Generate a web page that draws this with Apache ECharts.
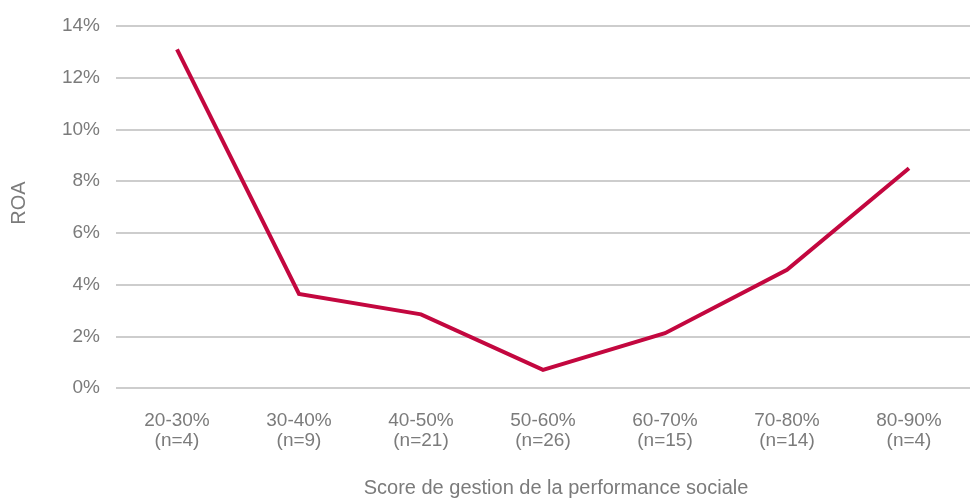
<!DOCTYPE html>
<html>
<head>
<meta charset="utf-8">
<script src="https://cdn.jsdelivr.net/npm/echarts@6/dist/echarts.min.js"></script>
<style>
  html, body { margin: 0; padding: 0; background: #ffffff; }
  #chart { width: 972px; height: 499px; }
</style>
</head>
<body>
<div id="chart"></div>
<script>
// Score bands (with sample sizes) and average ROA per band, in percent
const categories = ['20-30%\n(n=4)', '30-40%\n(n=9)', '40-50%\n(n=21)', '50-60%\n(n=26)', '60-70%\n(n=15)', '70-80%\n(n=14)', '80-90%\n(n=4)'];
const roaValues = [13.1, 3.64, 2.85, 0.7, 2.12, 4.57, 8.5];
const yTicks = { min: 0, max: 14, interval: 2 };

const textColor = '#7b7b7b';
const font = 'Liberation Sans, Arial, sans-serif';

const chart = echarts.init(document.getElementById('chart'), null, { renderer: 'canvas' });
chart.setOption({
  animation: false,
  backgroundColor: '#ffffff',
  grid: { left: 116, right: 2, top: 26, bottom: 111, containLabel: false, outerBoundsMode: 'none' },
  xAxis: {
    type: 'category',
    data: categories,
    boundaryGap: true,
    axisLine: { show: false },
    axisTick: { show: false },
    axisLabel: {
      color: textColor, fontFamily: font, fontSize: 19, lineHeight: 20, margin: 23, interval: 0
    },
    name: 'Score de gestion de la performance sociale',
    nameLocation: 'middle',
    nameGap: 90,
    nameTextStyle: { color: textColor, fontFamily: font, fontSize: 20, padding: [0, 0, 0, 26] }
  },
  yAxis: {
    type: 'value',
    min: yTicks.min, max: yTicks.max, interval: yTicks.interval,
    axisLine: { show: false },
    axisTick: { show: false },
    axisLabel: {
      color: textColor, fontFamily: font, fontSize: 19, margin: 16,
      formatter: v => v + '%'
    },
    splitLine: { lineStyle: { color: '#bdbdbd', width: 1.5 } },
    name: 'ROA',
    nameLocation: 'middle',
    nameRotate: 90,
    nameGap: 87,
    nameTextStyle: { color: textColor, fontFamily: font, fontSize: 20, padding: [0, 0, 0, 8] }
  },
  series: [{
    type: 'line',
    data: roaValues,
    symbol: 'none',
    lineStyle: { color: '#c3073f', width: 4, cap: 'butt', join: 'miter' }
  }]
});
</script>
</body>
</html>
